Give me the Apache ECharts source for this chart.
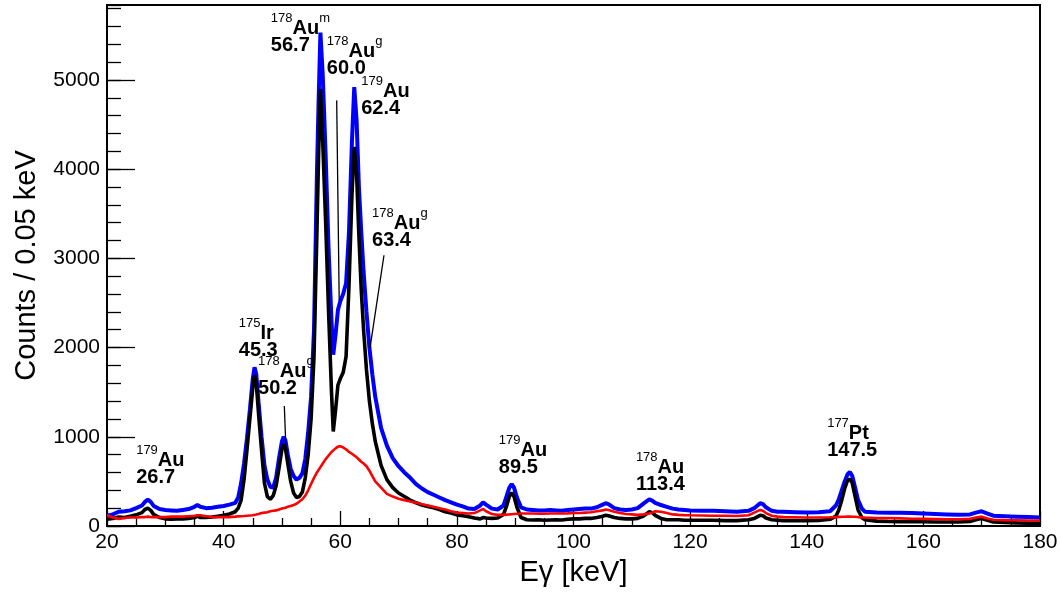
<!DOCTYPE html>
<html>
<head>
<meta charset="utf-8">
<script src="https://cdn.jsdelivr.net/npm/echarts@6/dist/echarts.min.js"></script>
<style>
html,body{margin:0;padding:0;background:#fff;}
#chart{width:1061px;height:592px;}
</style>
</head>
<body>
<div id="chart"></div>
<script>
// Gamma energy (keV) sample points
const energy = [20,21,22,23,24,25,26,26.5,27,27.5,28,29,30,31,32,33,34,35,35.5,36,37,38,39,40,41,42,42.5,43,43.5,44,44.5,45,45.3,45.6,46,46.5,47,47.5,48,48.5,49,49.5,50,50.3,50.6,51,51.5,52,52.5,53,53.5,54,54.5,55,55.5,56,56.3,56.6,57,57.5,58,58.5,58.8,59.2,59.6,60,60.5,61,61.5,62,62.4,62.8,63.2,63.6,64,64.5,65,65.5,66,67,68,69,70,71,72,73,74,75,76,77,78,79,80,81,82,83,84,84.5,85,86,87,88,88.5,89,89.4,89.8,90.3,91,92,93,94,95,96,97,98,99,100,101,102,103,104,105,105.5,106,107,108,109,110,111,112,113,113.5,114,115,116,117,118,119,120,122,124,126,128,130,131,132,132.5,133,134,135,136,138,140,142,144,145,145.5,146,146.5,147,147.4,147.8,148.3,148.8,149.5,150,152,154,156,158,160,162,164,166,168,169,170,171,172,174,176,178,180];

// Counts per 0.05 keV
const blackCounts = [75,85,100,95,110,125,150,185,200,175,130,95,80,75,80,80,85,95,110,95,95,100,110,120,135,160,200,290,520,850,1200,1550,1690,1600,1250,850,480,330,300,340,450,650,860,920,870,700,500,370,320,330,380,540,800,1200,1900,3300,4200,4900,4300,3400,2400,1500,1060,1300,1580,1650,1720,1900,2700,3700,4250,3950,3250,2650,2200,1750,1400,1150,950,680,520,430,370,330,290,260,235,220,205,185,160,145,125,115,105,90,80,95,90,85,90,130,220,330,375,330,210,95,70,68,70,65,68,70,68,75,80,80,85,85,95,110,120,115,95,85,80,80,85,110,160,150,120,85,70,70,70,65,65,65,65,60,60,70,85,120,115,90,70,65,60,60,60,62,75,110,180,290,420,510,525,480,330,180,90,70,55,50,48,48,47,45,45,45,50,70,85,65,45,40,35,32,30];

const blueCounts = [115,130,160,165,175,200,230,270,295,270,225,190,180,175,170,180,190,215,235,215,200,205,215,225,240,260,320,480,700,980,1300,1650,1780,1700,1380,1000,680,520,440,430,540,760,950,1000,960,800,640,560,520,540,590,750,1050,1450,2200,3950,4800,5530,5050,4150,3100,2300,1920,2150,2420,2520,2600,2720,3300,4300,4920,4550,3800,3300,2850,2400,2000,1700,1450,1100,900,760,670,600,540,470,420,380,350,320,290,265,240,220,195,190,230,265,240,195,185,230,330,430,470,430,320,210,185,180,175,175,178,175,172,180,185,190,195,195,210,240,255,245,200,185,180,185,200,250,300,285,260,235,215,195,185,180,175,172,170,165,160,170,200,255,245,210,170,160,160,155,150,155,165,230,300,400,500,580,605,560,430,290,190,160,150,148,148,145,140,135,130,125,130,150,165,140,115,110,105,100,95];

const redCounts = [120,95,80,90,95,95,100,100,105,100,100,100,100,105,105,105,110,115,120,120,110,100,100,100,100,105,108,110,112,115,118,120,125,128,135,145,150,155,165,170,175,185,195,200,205,215,225,235,250,275,300,340,400,470,540,600,630,660,700,750,790,830,850,870,890,895,880,860,830,810,790,770,745,720,700,670,620,560,500,430,360,330,305,290,275,260,245,230,215,200,185,165,150,145,140,145,175,190,165,135,125,125,128,130,132,135,138,140,140,140,138,138,140,140,140,142,145,145,150,155,165,175,185,180,160,145,135,130,125,130,140,150,165,160,145,130,125,122,120,118,115,115,112,120,150,180,170,145,115,105,100,98,95,95,98,100,102,103,104,105,105,104,103,100,97,95,90,88,85,82,80,78,76,75,80,95,105,85,70,66,64,62,60];

const xTickLabels = [20,40,60,80,100,120,140,160,180];
const yTickLabels = [0,1000,2000,3000,4000,5000];

// Peak annotations: isotope, element, state, energy text
const peakIso   = ['179','175','178','178','178','179','178','179','178','177'];
const peakElem  = ['Au','Ir','Au','Au','Au','Au','Au','Au','Au','Pt'];
const peakState = ['','','g','m','g','','g','','',''];
const peakText  = ['26.7','45.3','50.2','56.7','60.0','62.4','63.4','89.5','113.4','147.5'];
// anchor of each annotation in data coordinates (keV, counts): top-left of text block
const peakAnchorE = [25.0,42.6,45.9,48.1,57.7,63.6,65.45,87.2,110.7,143.5];
const peakAnchorC = [918,2341,1915,5757,5499,5051,3573,1030,840,1221];
// pointer lines (keV, counts) start -> end
const pointerFrom = [[50.41,1344],[59.39,4771],[67.5,3035]];
const pointerTo   = [[50.65,930],[59.82,2531],[65.1,1994]];

const FONT = '"Liberation Sans", Arial, Helvetica, sans-serif';

const chart = echarts.init(document.getElementById('chart'), null, {renderer:'canvas'});

function pairs(vals){ return energy.map((e,i)=>[e, vals[i]]); }

const option = {
  animation:false,
  backgroundColor:'#fff',
  grid:{left:107,right:21,top:5,bottom:66,show:true,borderColor:'#000',borderWidth:2,backgroundColor:'transparent'},
  xAxis:{
    type:'value', min:20, max:180, interval:20,
    axisLine:{show:true,onZero:false,lineStyle:{color:'#000',width:2}},
    axisTick:{show:true,inside:true,length:15,lineStyle:{color:'#000',width:1.3}},
    minorTick:{show:true,splitNumber:4,length:8,lineStyle:{color:'#000',width:1.3}},
    splitLine:{show:false}, minorSplitLine:{show:false},
    axisLabel:{color:'#000',fontSize:21,fontFamily:FONT,margin:6,
      formatter:v=> xTickLabels.indexOf(v)>=0 ? String(v) : ''},
    name:'Eγ [keV]', nameLocation:'middle', nameGap:32,
    nameTextStyle:{color:'#000',fontSize:29,fontFamily:FONT}
  },
  yAxis:[{
    type:'value', min:0, max:5840, interval:1000, position:'left',
    axisLine:{show:true,onZero:false,lineStyle:{color:'#000',width:2}},
    axisTick:{show:true,inside:true,length:28,lineStyle:{color:'#000',width:1.3}},
    splitLine:{show:false},
    axisLabel:{color:'#000',fontSize:21,fontFamily:FONT,margin:7,showMaxLabel:false,
      formatter:v=> yTickLabels.indexOf(v)>=0 ? String(v) : ''},
    name:'Counts / 0.05 keV', nameLocation:'middle', nameGap:66, nameRotate:90,
    nameTextStyle:{color:'#000',fontSize:29,fontFamily:FONT}
  },{
    type:'value', min:0, max:5840, interval:200, position:'left',
    axisLine:{show:false},
    axisTick:{show:true,inside:true,length:14,lineStyle:{color:'#000',width:1.3}},
    axisLabel:{show:false}, splitLine:{show:false}
  }],
  series:[
    {name:'blue',type:'line',data:pairs(blueCounts),showSymbol:false,symbol:'none',
     lineStyle:{color:'#0000ff',width:4},itemStyle:{color:'#0000ff'},z:2,clip:true},
    {name:'black',type:'line',data:pairs(blackCounts),showSymbol:false,symbol:'none',
     lineStyle:{color:'#000000',width:3.6},itemStyle:{color:'#000'},z:3,clip:true},
    {name:'red',type:'line',data:pairs(redCounts),showSymbol:false,symbol:'none',
     lineStyle:{color:'#ff0000',width:2.6},itemStyle:{color:'#f00'},z:4,clip:true}
  ]
};
chart.setOption(option);

const rich = {
  s:{fontSize:13,fontFamily:FONT,fontWeight:'normal',lineHeight:17,verticalAlign:'top',fill:'#000'},
  e:{fontSize:20,fontFamily:FONT,fontWeight:'bold',lineHeight:26,verticalAlign:'bottom',fill:'#000'},
  n:{fontSize:20,fontFamily:FONT,fontWeight:'bold',lineHeight:15,fill:'#000'}
};
const graphics = [];
for(let i=0;i<peakIso.length;i++){
  const p = chart.convertToPixel({xAxisIndex:0,yAxisIndex:0},[peakAnchorE[i],peakAnchorC[i]]);
  let t = '{s|'+peakIso[i]+'}{e|'+peakElem[i]+'}' + (peakState[i] ? '{s|'+peakState[i]+'}' : '') + '\n{n|'+peakText[i]+'}';
  graphics.push({type:'text',x:p[0],y:p[1],z:100,
    style:{text:t,rich:rich,fill:'#000',align:'left',verticalAlign:'top',font:'bold 20px '+FONT}});
}
for(let i=0;i<pointerFrom.length;i++){
  const a = chart.convertToPixel({xAxisIndex:0,yAxisIndex:0},pointerFrom[i]);
  const b = chart.convertToPixel({xAxisIndex:0,yAxisIndex:0},pointerTo[i]);
  graphics.push({type:'line',z:100,shape:{x1:a[0],y1:a[1],x2:b[0],y2:b[1]},style:{stroke:'#000',lineWidth:1.3}});
}
chart.setOption({graphic:graphics});
</script>
</body>
</html>
